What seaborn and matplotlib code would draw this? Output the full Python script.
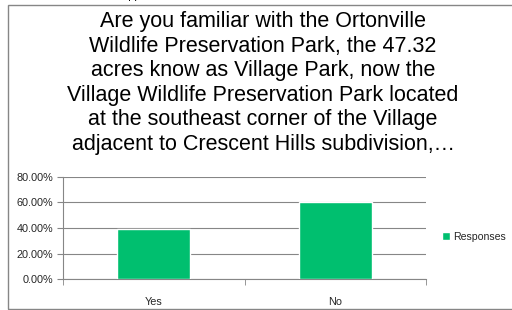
import seaborn as sns
import matplotlib.pyplot as plt
from matplotlib.patches import Rectangle
from matplotlib.ticker import FuncFormatter, FixedLocator

# data
answers = ['Yes', 'No']
responses = [39.6, 60.4]
yticks = [0, 20, 40, 60, 80]
title = ('Are you familiar with the Ortonville\n'
         'Wildlife Preservation Park, the 47.32\n'
         'acres know as Village Park, now the\n'
         'Village Wildlife Preservation Park located\n'
         'at the southeast corner of the Village\n'
         'adjacent to Crescent Hills subdivision,\u2026')

sns.set_style('white')
plt.rcParams['font.family'] = ['Liberation Sans', 'DejaVu Sans']

W, H = 512, 310
fig = plt.figure(figsize=(W / 100, H / 100), dpi=100)
ax = fig.add_axes([63 / W, 1 - 279.3 / H, (426 - 63) / W, (279.3 - 176.7) / H])

green = '#00bf6f'
grey = '#868686'
sns.barplot(x=answers, y=responses, color=green, saturation=1, width=0.4,
            ax=ax, label='Responses', zorder=3)

ax.set_xlim(-0.5, 1.5)
ax.set_ylim(0, 80)
ax.set_yticks(yticks)
ax.yaxis.set_major_formatter(FuncFormatter(lambda v, p: '%.2f%%' % v))
ax.yaxis.grid(True, color=grey, linewidth=0.8, zorder=0)
ax.set_xlabel('')
ax.set_ylabel('')
for s in ['top', 'right']:
    ax.spines[s].set_visible(False)
for s in ['left', 'bottom']:
    ax.spines[s].set_color(grey)
    ax.spines[s].set_linewidth(0.8)
ax.tick_params(axis='y', left=True, length=4, color=grey, labelsize=7.8, pad=3)
ax.tick_params(axis='x', bottom=False, labelsize=7.8, pad=9)
ax.xaxis.set_minor_locator(FixedLocator([-0.5, 0.5, 1.5]))
ax.tick_params(axis='x', which='minor', bottom=True, length=4, color=grey)

leg = ax.get_legend()
if leg is not None:
    leg.remove()
fig.legend(*ax.get_legend_handles_labels(), loc='center left',
           bbox_to_anchor=(432 / W, 1 - 237 / H), frameon=False,
           fontsize=7.6, handlelength=0.8, handleheight=0.8, handletextpad=0.3)

fig.text(263 / W, 1 - 83 / H, title, ha='center', va='center',
         fontsize=15.5, linespacing=1.22, color='#000000')

# clipped label from the cell above
fig.text(133 / W, 1 - (-4) / H, 'Skipped', ha='center', va='center',
         fontsize=7.8, color='#000000')

fig.patches.append(Rectangle((8 / W, 1 / H), 1, (305 - 1) / H,
                             transform=fig.transFigure, fill=False,
                             edgecolor=grey, linewidth=1))

fig.savefig('out.png', dpi=100)
